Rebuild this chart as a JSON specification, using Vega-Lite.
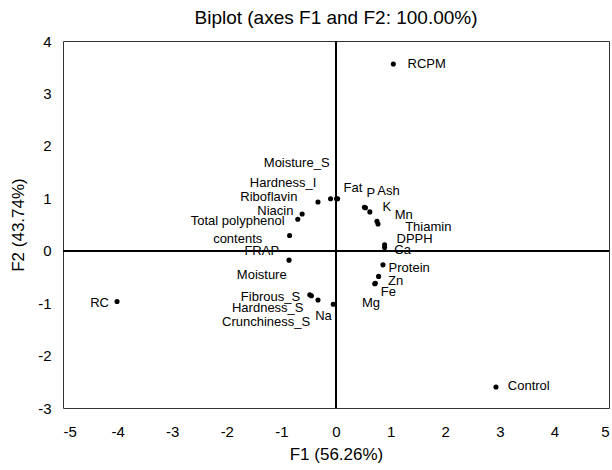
{
  "$schema": "https://vega.github.io/schema/vega-lite/v6.json",
  "width": 546,
  "height": 367,
  "autosize": {"type": "none"},
  "padding": {"left": 63, "top": 41, "right": 3, "bottom": 62},
  "background": "white",
  "title": {"text": "Biplot  (axes F1 and F2:  100.00%)", "fontSize": 19, "font": "Liberation Sans", "fontWeight": "normal", "color": "#000", "offset": 6, "anchor": "middle"},
  "config": {
    "view": {"stroke": "#333", "strokeWidth": 1},
    "axis": {"grid": false, "domain": false, "ticks": false, "tickSize": 0, "labelFont": "Liberation Sans", "labelFontSize": 15, "labelColor": "#000", "titleFont": "Liberation Sans", "titleFontSize": 17, "titleFontWeight": "normal", "titleColor": "#000", "labelExpr": "'' + datum.value"}
  },
  "datasets": {
    "pts": [
      {"name": "Moisture_S", "F1": 0.01, "F2": 0.99, "lx": -0.72, "ly": 1.68},
      {"name": "Hardness_I", "F1": -0.10, "F2": 0.99, "lx": -0.97, "ly": 1.30},
      {"name": "Riboflavin", "F1": -0.33, "F2": 0.93, "lx": -1.23, "ly": 1.02},
      {"name": "Fat", "F1": 0.03, "F2": 0.99, "lx": 0.31, "ly": 1.20},
      {"name": "Niacin", "F1": -0.62, "F2": 0.70, "lx": -1.11, "ly": 0.75},
      {"name": "Total polyphenol\ncontents", "F1": -0.70, "F2": 0.60, "lx": -1.80, "ly": 0.56},
      {"name": "FRAP", "F1": -0.85, "F2": 0.29, "lx": -1.36, "ly": -0.01},
      {"name": "Moisture", "F1": -0.86, "F2": -0.18, "lx": -1.36, "ly": -0.47},
      {"name": "Fibrous_S", "F1": -0.48, "F2": -0.84, "lx": -1.20, "ly": -0.88},
      {"name": "Hardness_S", "F1": -0.45, "F2": -0.86, "lx": -1.25, "ly": -1.09},
      {"name": "Crunchiness_S", "F1": -0.33, "F2": -0.94, "lx": -1.28, "ly": -1.36},
      {"name": "Na", "F1": -0.05, "F2": -1.02, "lx": -0.23, "ly": -1.25},
      {"name": "P", "F1": 0.52, "F2": 0.83, "lx": 0.64, "ly": 1.11},
      {"name": "Ash", "F1": 0.54, "F2": 0.82, "lx": 0.96, "ly": 1.13},
      {"name": "K", "F1": 0.62, "F2": 0.74, "lx": 0.93, "ly": 0.83},
      {"name": "Mn", "F1": 0.75, "F2": 0.56, "lx": 1.24, "ly": 0.69},
      {"name": "Thiamin", "F1": 0.77, "F2": 0.51, "lx": 1.69, "ly": 0.46},
      {"name": "DPPH", "F1": 0.89, "F2": 0.115, "lx": 1.44, "ly": 0.22},
      {"name": "Ca", "F1": 0.89, "F2": 0.06, "lx": 1.22, "ly": 0.02},
      {"name": "Protein", "F1": 0.86, "F2": -0.27, "lx": 1.34, "ly": -0.33},
      {"name": "Zn", "F1": 0.78, "F2": -0.49, "lx": 1.09, "ly": -0.58},
      {"name": "Fe", "F1": 0.72, "F2": -0.62, "lx": 0.96, "ly": -0.79},
      {"name": "Mg", "F1": 0.71, "F2": -0.63, "lx": 0.64, "ly": -1.00},
      {"name": "RC", "F1": -4.01, "F2": -0.97, "lx": -4.33, "ly": -0.99},
      {"name": "RCPM", "F1": 1.05, "F2": 3.56, "lx": 1.66, "ly": 3.57},
      {"name": "Control", "F1": 2.93, "F2": -2.60, "lx": 3.53, "ly": -2.58}
    ],
    "xt": [{"v": -5}, {"v": -4}, {"v": -3}, {"v": -2}, {"v": -1}, {"v": 0}, {"v": 1}, {"v": 2}, {"v": 3}, {"v": 4}, {"v": 5}],
    "yt": [{"v": -3}, {"v": -2}, {"v": -1}, {"v": 0}, {"v": 1}, {"v": 2}, {"v": 3}, {"v": 4}]
  },
  "data": {"name": "pts"},
  "encoding": {
    "x": {"field": "F1", "type": "quantitative", "scale": {"domain": [-5, 5], "nice": false, "zero": false},
      "axis": {"values": [-5, -4, -3, -2, -1, 0, 1, 2, 3, 4, 5], "title": "F1  (56.26%)", "labelPadding": 16, "titlePadding": 7}},
    "y": {"field": "F2", "type": "quantitative", "scale": {"domain": [-3, 4], "nice": false, "zero": false},
      "axis": {"values": [-3, -2, -1, 0, 1, 2, 3, 4], "title": "F2 (43.74%)", "labelPadding": 12, "titlePadding": 10}}
  },
  "layer": [
    {"mark": {"type": "rule", "color": "#000", "strokeWidth": 1}, "encoding": {"x": {"datum": 0}, "y": null}},
    {"mark": {"type": "rule", "color": "#000", "strokeWidth": 1}, "encoding": {"y": {"datum": 0}, "x": null}},
    {"data": {"name": "xt"}, "mark": {"type": "point", "shape": "M0,-1L0,1", "filled": false, "stroke": "#000", "strokeWidth": 1, "size": 64, "opacity": 1},
      "encoding": {"x": {"field": "v", "type": "quantitative"}, "y": {"datum": 0}}},
    {"data": {"name": "yt"}, "mark": {"type": "point", "shape": "M-1,0L1,0", "filled": false, "stroke": "#000", "strokeWidth": 1, "size": 64, "opacity": 1},
      "encoding": {"y": {"field": "v", "type": "quantitative"}, "x": {"datum": 0}}},
    {"mark": {"type": "circle", "color": "#000", "size": 26, "opacity": 1}},
    {"mark": {"type": "text", "font": "Liberation Sans", "fontSize": 13, "align": "center", "baseline": "middle", "lineBreak": "\n", "lineHeight": 18, "color": "#000"},
      "encoding": {"x": {"field": "lx", "type": "quantitative"}, "y": {"field": "ly", "type": "quantitative"}, "text": {"field": "name"}}}
  ]
}
